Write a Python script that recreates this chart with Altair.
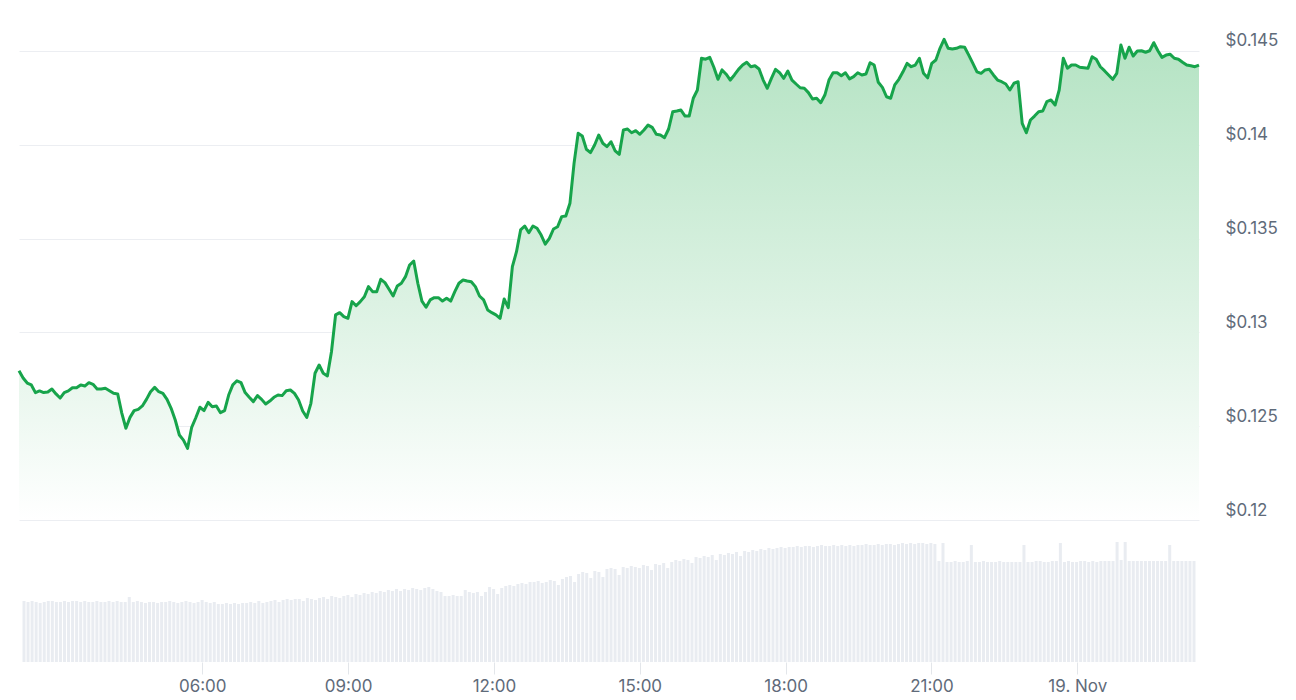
import altair as alt
import pandas as pd
from datetime import datetime, timezone

# ---------------- data ----------------
price = [
    0.12796, 0.12757, 0.12730, 0.12720, 0.12679, 0.12688, 0.12679, 0.12682, 0.12698, 0.12672, 0.12650, 0.12679,
    0.12688, 0.12705, 0.12705, 0.12720, 0.12714, 0.12732, 0.12723, 0.12698, 0.12698, 0.12702, 0.12689, 0.12675,
    0.12672, 0.12570, 0.12489, 0.12547, 0.12583, 0.12590, 0.12608, 0.12643, 0.12684, 0.12707, 0.12684, 0.12675,
    0.12643, 0.12595, 0.12533, 0.12453, 0.12426, 0.12382, 0.12494, 0.12545, 0.12601, 0.12583, 0.12627, 0.12604,
    0.12608, 0.12572, 0.12583, 0.12666, 0.12720, 0.12742, 0.12732, 0.12679, 0.12654, 0.12631, 0.12663, 0.12643,
    0.12618, 0.12634, 0.12654, 0.12666, 0.12663, 0.12689, 0.12693, 0.12675, 0.12640, 0.12581, 0.12547, 0.12622,
    0.12782, 0.12826, 0.12782, 0.12768, 0.12897, 0.13093, 0.13105, 0.13084, 0.13075, 0.13164, 0.13142, 0.13164,
    0.13190, 0.13244, 0.13217, 0.13217, 0.13283, 0.13265, 0.13230, 0.13194, 0.13247, 0.13262, 0.13297, 0.13359,
    0.13380, 0.13262, 0.13167, 0.13134, 0.13173, 0.13185, 0.13185, 0.13167, 0.13182, 0.13167, 0.13217, 0.13262,
    0.13279, 0.13274, 0.13270, 0.13244, 0.13194, 0.13173, 0.13119, 0.13105, 0.13093, 0.13075, 0.13178, 0.13132,
    0.13350, 0.13430, 0.13546, 0.13567, 0.13531, 0.13567, 0.13555, 0.13519, 0.13470, 0.13501, 0.13551, 0.13563,
    0.13617, 0.13620, 0.13688, 0.13901, 0.14061, 0.14047, 0.13976, 0.13958, 0.13999, 0.14052, 0.14008, 0.13990,
    0.14016, 0.13968, 0.13949, 0.14079, 0.14084, 0.14064, 0.14075, 0.14056, 0.14079, 0.14105, 0.14093, 0.14056,
    0.14052, 0.14038, 0.14084, 0.14176, 0.14180, 0.14185, 0.14153, 0.14153, 0.14248, 0.14292, 0.14461, 0.14456,
    0.14466, 0.14413, 0.14349, 0.14399, 0.14376, 0.14345, 0.14372, 0.14402, 0.14425, 0.14440, 0.14416, 0.14421,
    0.14404, 0.14345, 0.14301, 0.14354, 0.14402, 0.14384, 0.14354, 0.14393, 0.14345, 0.14324, 0.14304, 0.14301,
    0.14278, 0.14244, 0.14248, 0.14224, 0.14265, 0.14345, 0.14384, 0.14384, 0.14368, 0.14384, 0.14351, 0.14363,
    0.14384, 0.14372, 0.14377, 0.14437, 0.14425, 0.14333, 0.14306, 0.14256, 0.14248, 0.14319, 0.14349, 0.14389,
    0.14434, 0.14416, 0.14425, 0.14461, 0.14381, 0.14357, 0.14434, 0.14452, 0.14514, 0.14562, 0.14514, 0.14510,
    0.14514, 0.14523, 0.14520, 0.14478, 0.14434, 0.14389, 0.14381, 0.14399, 0.14402, 0.14372, 0.14345, 0.14336,
    0.14324, 0.14292, 0.14328, 0.14336, 0.14114, 0.14064, 0.14132, 0.14153, 0.14176, 0.14180, 0.14230, 0.14239,
    0.14212, 0.14292, 0.14461, 0.14408, 0.14425, 0.14425, 0.14413, 0.14411, 0.14408, 0.14469, 0.14456, 0.14416,
    0.14395, 0.14372, 0.14349, 0.14381, 0.14532, 0.14461, 0.14520, 0.14473, 0.14500, 0.14501, 0.14493, 0.14501,
    0.14544, 0.14501, 0.14466, 0.14478, 0.14482, 0.14461, 0.14456, 0.14440, 0.14425, 0.14421, 0.14416, 0.14425,
]

volume = [
    6.1, 6.0, 6.1, 6.0, 5.9, 6.0, 6.1, 6.1, 6.0, 6.0, 6.1, 6.0,
    6.1, 6.1, 6.0, 6.1, 6.0, 6.0, 6.1, 6.0, 6.0, 6.1, 6.0, 6.1,
    6.0, 6.0, 6.5, 6.0, 6.1, 6.0, 5.9, 6.0, 6.0, 5.9, 6.0, 6.0,
    6.1, 6.0, 5.9, 6.0, 6.1, 6.0, 5.9, 6.0, 6.2, 6.0, 5.9, 6.0,
    5.8, 5.8, 5.9, 5.8, 5.9, 5.8, 5.9, 5.9, 6.0, 5.9, 6.1, 5.9,
    6.0, 6.1, 6.2, 6.0, 6.2, 6.3, 6.2, 6.3, 6.3, 6.1, 6.4, 6.3,
    6.2, 6.4, 6.5, 6.3, 6.6, 6.5, 6.4, 6.6, 6.7, 6.5, 6.8, 6.7,
    6.9, 6.8, 7.0, 6.9, 7.1, 7.0, 7.2, 7.1, 7.3, 7.1, 7.3, 7.2,
    7.4, 7.3, 7.2, 7.4, 7.5, 7.3, 7.1, 7.0, 6.6, 6.6, 6.7, 6.6,
    6.6, 7.2, 7.0, 6.9, 7.0, 6.6, 7.0, 7.5, 7.3, 6.8, 7.4, 7.6,
    7.7, 7.6, 7.8, 7.9, 7.8, 8.0, 8.0, 8.1, 7.9, 8.0, 8.2, 8.1,
    7.7, 8.3, 8.5, 8.6, 8.0, 8.8, 9.0, 8.9, 8.4, 9.1, 9.0, 8.5,
    9.3, 9.4, 9.3, 8.7, 9.5, 9.4, 9.6, 9.5, 9.4, 9.7, 9.6, 9.2,
    9.8, 9.7, 9.9, 9.4, 10.0, 10.2, 10.1, 10.3, 10.2, 9.9, 10.5, 10.4,
    10.6, 10.5, 10.7, 10.2, 10.8, 10.7, 10.9, 10.8, 11.0, 10.6, 11.1, 11.0,
    11.2, 11.1, 11.3, 11.2, 11.4, 11.3, 11.4, 11.5, 11.4, 11.5, 11.5, 11.6,
    11.5, 11.6, 11.6, 11.5, 11.6, 11.7, 11.6, 11.6, 11.7, 11.6, 11.7, 11.6,
    11.7, 11.6, 11.7, 11.7, 11.8, 11.7, 11.7, 11.8, 11.7, 11.8, 11.8, 11.7,
    11.8, 11.9, 11.8, 11.9, 11.8, 11.9, 11.9, 11.8, 11.9, 11.8, 10.1, 11.9,
    10.0, 10.0, 10.1, 10.0, 10.0, 10.1, 11.7, 10.0, 10.0, 10.1, 10.0, 10.0,
    10.0, 10.1, 10.0, 10.0, 10.0, 10.0, 10.0, 11.7, 10.0, 10.0, 10.1, 10.1,
    10.0, 10.0, 10.1, 10.1, 11.9, 10.0, 10.1, 10.0, 10.0, 10.1, 10.1, 10.0,
    10.1, 10.0, 10.1, 10.1, 10.1, 10.1, 12.0, 10.2, 12.0, 10.1, 10.1, 10.1,
    10.1, 10.1, 10.1, 10.1, 10.1, 10.1, 10.1, 11.7, 10.1, 10.1, 10.1, 10.1, 10.1, 10.1,
]

y_ticks = [0.12, 0.125, 0.13, 0.135, 0.14, 0.145]
x_tick_hours = [(18, 6), (18, 9), (18, 12), (18, 15), (18, 18), (18, 21), (19, 0)]


def ms(day, hour, minute=0):
    return int(datetime(2024, 11, day, hour, minute, tzinfo=timezone.utc).timestamp() * 1000)


start_ms = ms(18, 2, 20)
end_ms = ms(19, 2, 24)


def spread(n):
    step = (end_ms - start_ms) / (n - 1)
    return [start_ms + i * step for i in range(n)]


price_df = pd.DataFrame({"t": spread(len(price)), "price": price})
vol_df = pd.DataFrame({"t": spread(len(volume)), "vol": volume})
x_tick_values = [ms(d, h) for d, h in x_tick_hours]

# ---------------- style ----------------
LABEL_COLOR = "#5f6b7a"
GRID_COLOR = "#eceef2"
LINE_COLOR = "#17a44b"
FONT = "Inter"

x_scale = alt.Scale(type="utc", domain=[start_ms, end_ms], nice=False)
y_scale = alt.Scale(domain=[0.12, 0.14729], nice=False, zero=False)

gradient = alt.Gradient(
    gradient="linear",
    stops=[
        alt.GradientStop(color="#b4e3c3", offset=0),
        alt.GradientStop(color="#dcf2e3", offset=0.55),
        alt.GradientStop(color="#ffffff", offset=1),
    ],
    x1=0, x2=0, y1=0, y2=1,
)

y_axis = alt.Axis(
    orient="right",
    values=y_ticks,
    labelExpr="'$' + format(datum.value, '.3~f')",
    domain=False,
    ticks=False,
    grid=True,
    gridColor=GRID_COLOR,
    gridWidth=1,
    labelPadding=26,
    labelOffset=-10,
    labelFontSize=17,
    labelFont=FONT,
    labelColor=LABEL_COLOR,
    title=None,
)

x_axis = alt.Axis(
    values=x_tick_values,
    labelExpr="utchours(datum.value) == 0 ? utcFormat(datum.value, '%-d. %b') : utcFormat(datum.value, '%H:%M')",
    domain=False,
    grid=False,
    ticks=True,
    tickColor="#e3e6ea",
    tickSize=12,
    labelPadding=4,
    labelFontSize=17,
    labelFont=FONT,
    labelColor=LABEL_COLOR,
    labelFlush=False,
    title=None,
)

base = alt.Chart(price_df)

area = base.mark_area(color=gradient).encode(
    x=alt.X("t:T", scale=x_scale, axis=None),
    y=alt.Y("price:Q", scale=y_scale, axis=y_axis),
    y2=alt.datum(0.12),
)

line = base.mark_line(color=LINE_COLOR, strokeWidth=3, strokeJoin="round").encode(
    x=alt.X("t:T", scale=x_scale, axis=None),
    y=alt.Y("price:Q", scale=y_scale),
)

top = alt.layer(area, line).properties(width=1180, height=512)

bars = alt.Chart(vol_df).mark_bar(color="#e9ecf1", size=3).encode(
    x=alt.X("t:T", scale=x_scale, axis=x_axis),
    y=alt.Y("vol:Q", scale=alt.Scale(domain=[0, 14.2], nice=False), axis=None),
).properties(width=1180, height=142)

chart = (
    alt.vconcat(top, bars, spacing=0)
    .properties(padding={"left": 9, "top": 0, "right": 5, "bottom": 0})
    .configure(font=FONT)
    .configure_view(strokeWidth=0, stroke="transparent")
)

chart.save("out.html", embed_options={"renderer": "svg", "actions": False})
